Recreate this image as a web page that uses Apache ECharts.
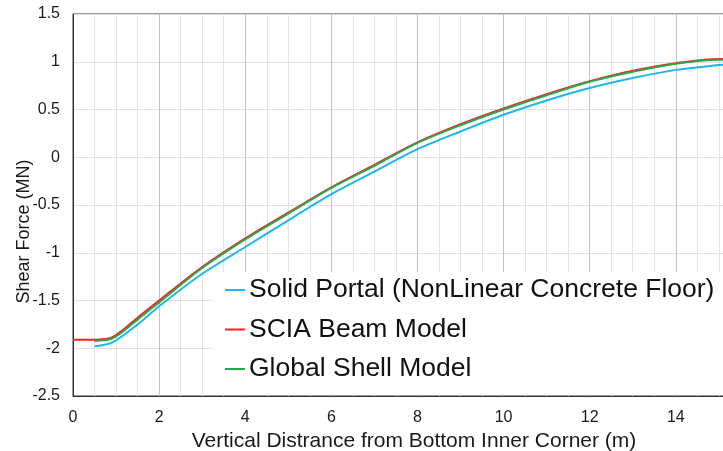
<!DOCTYPE html>
<html>
<head>
<meta charset="utf-8">
<script src="https://cdn.jsdelivr.net/npm/echarts@6/dist/echarts.min.js"></script>
<style>html,body{margin:0;padding:0;background:#fff;}#c{width:723px;height:451px;}</style>
</head>
<body>
<div id="c"></div>
<script>
const seriesNames = ['Solid Portal (NonLinear Concrete Floor)', 'SCIA Beam Model', 'Global Shell Model'];
const blueX = [0.5, 0.93, 1.5, 2, 3, 4, 5, 6, 7, 8, 9, 10, 11, 12, 13, 14, 15, 15.12];
const blueY = [-1.98, -1.935, -1.75, -1.56, -1.22, -0.94, -0.66, -0.385, -0.15, 0.085, 0.27, 0.445, 0.595, 0.725, 0.83, 0.915, 0.965, 0.97];
const redX = [0, 0.5, 0.93, 1.5, 2, 3, 4, 5, 6, 7, 8, 9, 10, 11, 12, 13, 14, 15, 15.12];
const redY = [-1.91, -1.91, -1.88, -1.68, -1.50, -1.15, -0.85, -0.58, -0.315, -0.08, 0.155, 0.345, 0.51, 0.66, 0.795, 0.905, 0.985, 1.03, 1.03];
const greenX = [0.5, 0.93, 1.5, 2, 3, 4, 5, 6, 7, 8, 9, 10, 11, 12, 13, 14, 15, 15.12];
const greenY = [-1.925, -1.895, -1.70, -1.52, -1.16, -0.86, -0.59, -0.32, -0.09, 0.15, 0.335, 0.50, 0.65, 0.79, 0.895, 0.98, 1.02, 1.02];
const colors = ['#1fb6ef', '#ff1f1f', '#27a84c'];

function pairs(xs, ys) { return xs.map((x, i) => [x, ys[i]]); }

const chart = echarts.init(document.getElementById('c'), null, {renderer: 'canvas'});
const font = 'Liberation Sans, Arial, sans-serif';
chart.setOption({
  animation: false,
  textStyle: {fontFamily: font},
  grid: {left: 73, right: -1, top: 14, bottom: 55, show: true, borderColor: '#333', borderWidth: 1, backgroundColor: 'transparent', containLabel: false, outerBoundsMode: 'none'},
  xAxis: {
    type: 'value', min: 0, max: 15.12, interval: 2,
    name: 'Vertical Distrance from Bottom Inner Corner (m)',
    nameLocation: 'middle', nameGap: 33,
    nameTextStyle: {fontSize: 21, color: '#1a1a1a', fontFamily: font, padding: [0, 0, 0, 31]},
    axisLine: {show: true, onZero: false, lineStyle: {color: '#333', width: 1}},
    axisTick: {show: false},
    axisLabel: {fontSize: 16, color: '#1a1a1a', margin: 14, showMaxLabel: false, fontFamily: font},
    splitLine: {show: true, lineStyle: {color: '#c4c4c4', width: 1}},
    minorTick: {show: false, splitNumber: 4},
    minorSplitLine: {show: true, lineStyle: {color: '#e3e3e3', width: 1}}
  },
  yAxis: {
    type: 'value', min: -2.5, max: 1.5, interval: 0.5,
    name: 'Shear Force (MN)',
    nameLocation: 'middle', nameGap: 40, nameMoveOverlap: false,
    nameTextStyle: {fontSize: 18, color: '#1a1a1a', fontFamily: font, padding: [0, 53, 0, 0]},
    axisLine: {show: true, onZero: false, lineStyle: {color: '#333', width: 1}},
    axisTick: {show: false},
    axisLabel: {fontSize: 16, color: '#1a1a1a', margin: 13, fontFamily: font},
    splitLine: {show: true, lineStyle: {color: '#e0e0e0', width: 1}}
  },
  legend: {
    orient: 'vertical', left: 213, top: 272, right: 0,
    padding: [3, 10, 10, 12],
    backgroundColor: '#ffffff',
    itemWidth: 20, itemHeight: 2, itemGap: 9.5,
    icon: 'rect',
    textStyle: {fontSize: 26.5, color: '#111', fontFamily: font, lineHeight: 30, padding: [0, 0, 0, -1]},
    data: seriesNames
  },
  series: [
    {name: seriesNames[0], type: 'line', data: pairs(blueX, blueY), showSymbol: false, smooth: 0.3, lineStyle: {width: 2, color: colors[0]}, itemStyle: {color: colors[0]}},
    {name: seriesNames[1], type: 'line', data: pairs(redX, redY), showSymbol: false, smooth: 0.3, lineStyle: {width: 2, color: colors[1]}, itemStyle: {color: colors[1]}},
    {name: seriesNames[2], type: 'line', data: pairs(greenX, greenY), showSymbol: false, smooth: 0.3, lineStyle: {width: 2, color: colors[2]}, itemStyle: {color: colors[2]}}
  ]
});
</script>
</body>
</html>
